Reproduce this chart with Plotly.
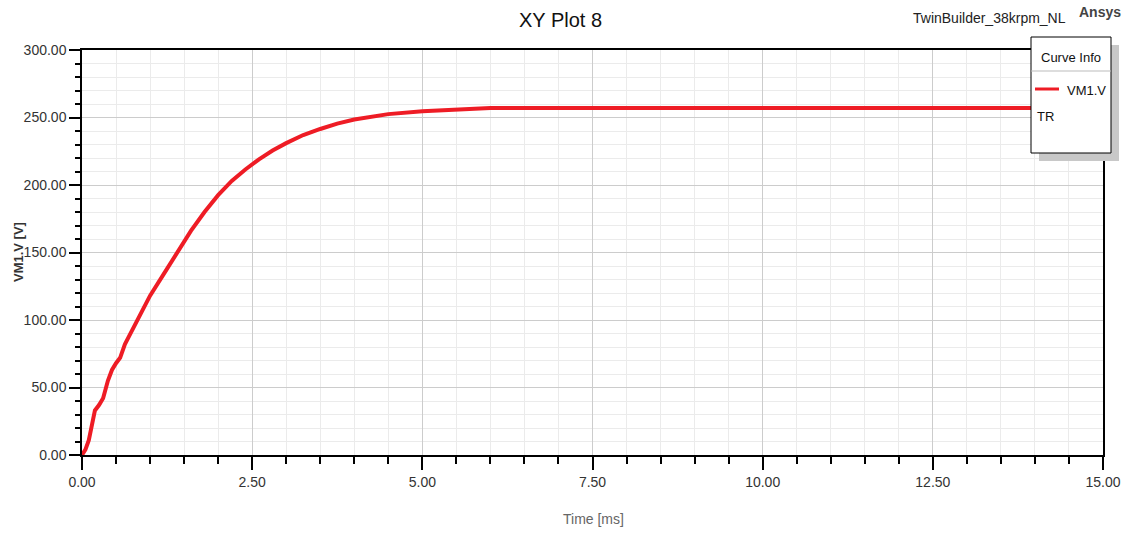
import plotly.graph_objects as go

# Transient response of VM1.V
time_ms = [0, 0.05, 0.1, 0.19, 0.25, 0.31, 0.38, 0.44, 0.5, 0.56, 0.63, 0.71, 0.85, 1.0,
           1.2, 1.4, 1.6, 1.8, 2.0, 2.2, 2.4, 2.6, 2.8, 3.0, 3.25, 3.5, 3.75, 4.0, 4.5,
           5.0, 5.5, 5.75, 6.0, 8.0, 10.0, 12.5, 15.0]
vm1_v = [0, 4, 11, 33, 37, 42, 55, 63, 68, 72, 82, 90, 104, 118,
         134, 150, 166, 180, 192.5, 203, 211.5, 219, 225.5, 231, 237, 241.5, 245.5, 248.5, 252.5,
         254.6, 255.8, 256.8, 257, 257, 257, 257, 257]

x_ticks = [0, 2.5, 5, 7.5, 10, 12.5, 15]
y_ticks = [0, 50, 100, 150, 200, 250, 300]

FONT = "Liberation Sans Narrow, Arial Narrow, Liberation Sans, sans-serif"
RED = "#ee1c25"

W, H = 1133, 535
L, R, T, B = 82, 30, 50, 80
PW, PH = W - L - R, H - T - B


def px(x):
    return (x - L) / PW


def py(y):
    return (H - B - y) / PH


fig = go.Figure()
fig.add_trace(go.Scatter(x=time_ms, y=vm1_v, mode="lines", name="VM1.V",
                         line=dict(color=RED, width=4), showlegend=False))

axis_common = dict(
    showline=True, linecolor="#000", linewidth=1.5, mirror=True,
    ticks="outside", tickcolor="#000", tickwidth=1.5,
    showgrid=True, gridcolor="#cccccc", gridwidth=1,
    zeroline=False, tickformat=".2f",
    tickfont=dict(family=FONT, size=14, color="#333"),
)

fig.update_xaxes(range=[0, 15], tickvals=x_ticks, ticklen=13,
                 minor=dict(dtick=0.5, ticks="outside", ticklen=7, tickcolor="#000",
                            showgrid=True, gridcolor="#ebebeb", gridwidth=1),
                 **axis_common)
fig.update_yaxes(range=[0, 300], tickvals=y_ticks, ticklen=11,
                 minor=dict(dtick=10, ticks="outside", ticklen=5, tickcolor="#000",
                            showgrid=True, gridcolor="#ebebeb", gridwidth=1),
                 **axis_common)

annotations = [
    dict(text="XY Plot 8", x=px(560), y=py(20), font=dict(family=FONT, size=20, color="#111")),
    dict(text="TwinBuilder_38krpm_NL", x=px(989), y=py(18), font=dict(family=FONT, size=14, color="#222")),
    dict(text="<b>Ansys</b>", x=px(1100), y=py(12), font=dict(family=FONT, size=14, color="#444")),
    dict(text="<b>VM1.V [V]</b>", x=px(18), y=py(252), textangle=-90, font=dict(family=FONT, size=13, color="#333")),
    dict(text="Time [ms]", x=px(593), y=py(519), font=dict(family=FONT, size=14, color="#666")),
    dict(text="Curve Info", x=px(1071), y=py(58), font=dict(family=FONT, size=13, color="#111")),
    dict(text="VM1.V", x=px(1086), y=py(91), font=dict(family=FONT, size=13, color="#111")),
    dict(text="TR", x=px(1035), y=py(117), xanchor="left", font=dict(family=FONT, size=13, color="#111")),
]
for a in annotations:
    a.setdefault("xanchor", "center")
    fig.add_annotation(xref="paper", yref="paper", yanchor="middle", showarrow=False, **a)

shapes = [
    # legend shadow
    dict(type="rect", x0=px(1039), x1=px(1119), y0=py(45), y1=py(161),
         fillcolor="#c8c8c8", line=dict(width=0)),
    # legend box
    dict(type="rect", x0=px(1031), x1=px(1111), y0=py(37), y1=py(153),
         fillcolor="white", line=dict(color="#000", width=1)),
    dict(type="line", x0=px(1031), x1=px(1111), y0=py(71), y1=py(71),
         line=dict(color="#bbbbbb", width=1)),
    dict(type="line", x0=px(1035), x1=px(1059), y0=py(89), y1=py(89),
         line=dict(color=RED, width=3)),
]
for s in shapes:
    fig.add_shape(xref="paper", yref="paper", layer="above", **s)

fig.update_layout(
    width=W, height=H, margin=dict(l=L, r=R, t=T, b=B),
    paper_bgcolor="white", plot_bgcolor="white",
    showlegend=False,
)

fig.write_html("out.html")
